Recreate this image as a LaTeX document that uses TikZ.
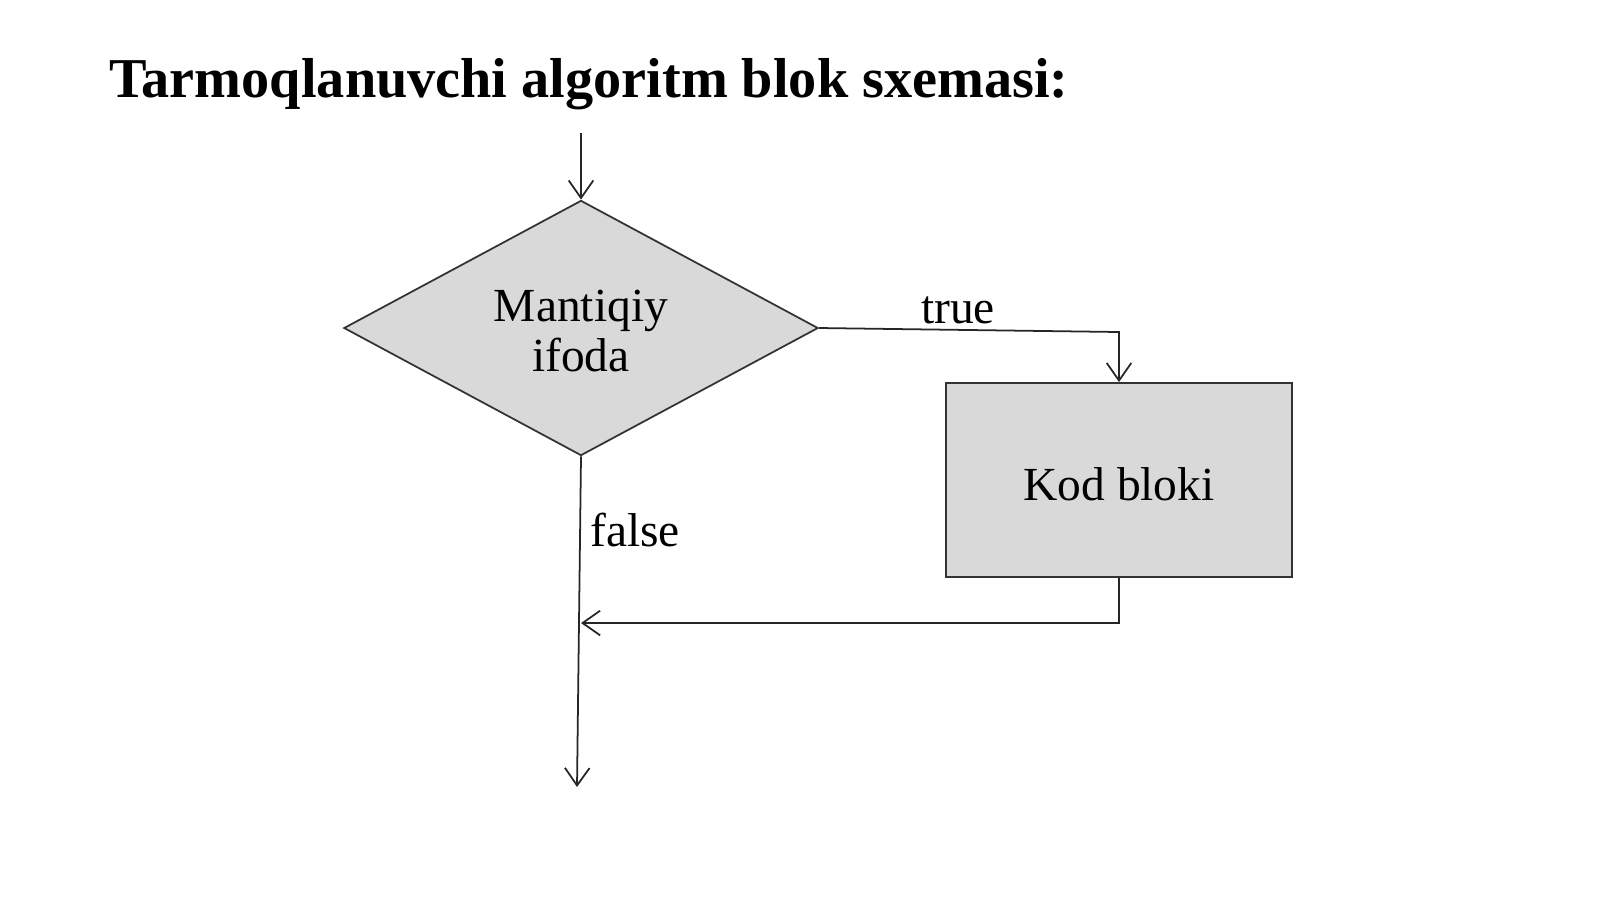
\documentclass[tikz,border=0pt]{standalone}
\usepackage{fontspec}
\setmainfont{Liberation Serif}
\usetikzlibrary{shapes.geometric,arrows.meta}
\begin{document}
\begin{tikzpicture}[x=0.01cm,y=-0.01cm,
  blk/.style={draw=black!80,fill=black!15,line width=0.5pt},
  ln/.style={draw=black!85,line width=0.5pt},
  arr/.style={ln,-{Straight Barb[length=5pt,width=7pt]}},
  lbl/.style={font=\fontsize{13.5pt}{16pt}\selectfont}]
\useasboundingbox (0,0) rectangle (1600,899);
\node[anchor=base west,font=\fontsize{16pt}{19pt}\selectfont\bfseries] (title) at (97,97) {Tarmoqlanuvchi algoritm blok sxemasi:};
\coordinate (start) at (581,133);
\node[blk,diamond,minimum width=474\pgflinewidth,inner sep=0pt,minimum width=4.74cm,minimum height=2.55cm,aspect=1.86] (d) at (581,328) {};
\node[lbl,align=center] (dt) at (581,331) {Mantiqiy\\[-2pt]ifoda};
\node[blk,minimum width=3.46cm,minimum height=1.94cm] (r) at (1119,480) {};
\node[lbl] (rt) at (1119,484) {Kod bloki};
\coordinate (tc) at (1119,332);
\coordinate (bc) at (1119,623);
\coordinate (jn) at (581,623);
\coordinate (end) at (577,787);
\draw[arr] (start) -- (d.north);
\draw[arr] (d.east) -- (tc) -- (r.north);
\draw[arr] (r.south) -- (bc) -- (jn);
\draw[arr] (d.south) -- (end);
\node[lbl] (tl) at (958,310) {true};
\node[lbl] (fl) at (635,530) {false};
\end{tikzpicture}
\end{document}
